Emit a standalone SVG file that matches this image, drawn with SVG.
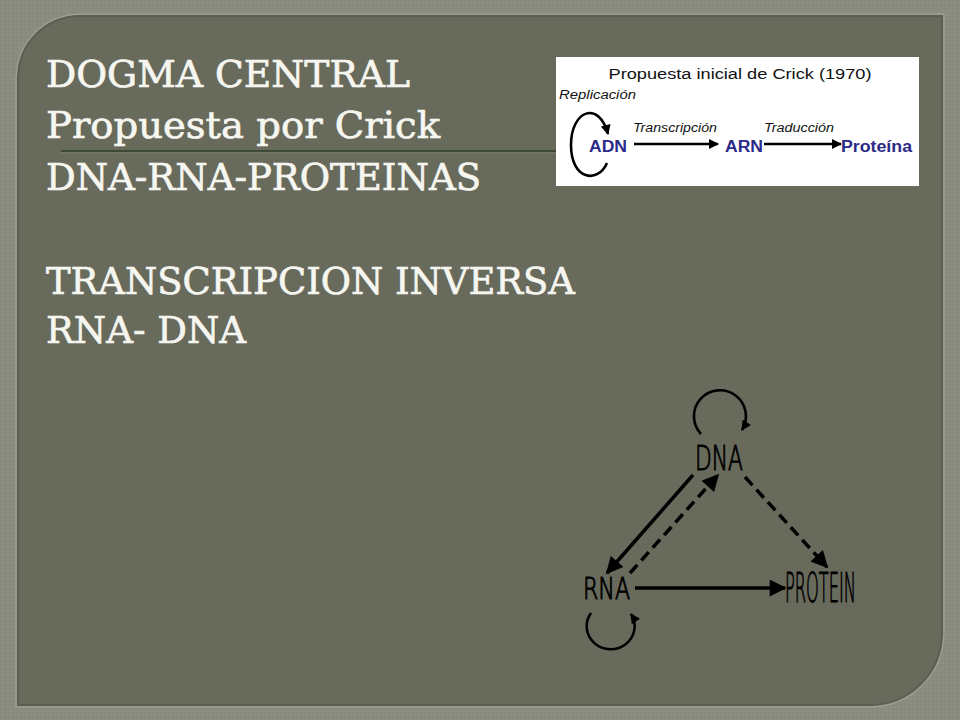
<svg xmlns="http://www.w3.org/2000/svg" width="960" height="720" viewBox="0 0 960 720">
<defs>
<pattern id="tex" width="4" height="4" patternUnits="userSpaceOnUse">
<rect width="4" height="4" fill="#8a8c7f"/>
<rect width="2" height="2" fill="#878a7c"/>
<rect x="2" y="2" width="2" height="2" fill="#8d8f82"/>
</pattern>
<marker id="ah" viewBox="0 0 10 10" refX="9" refY="5" markerWidth="20" markerHeight="17" markerUnits="userSpaceOnUse" orient="auto">
<path d="M0 0 L10 5 L0 10 Z" fill="#000"/>
</marker>
<marker id="ahs" viewBox="0 0 10 10" refX="9" refY="5" markerWidth="11" markerHeight="10" markerUnits="userSpaceOnUse" orient="auto">
<path d="M0 0 L10 5 L0 10 Z" fill="#000"/>
</marker>
</defs>
<style>
.big{font-family:"DejaVu Serif","Liberation Serif",serif;font-size:38px;fill:#f6f6f0;stroke:#f6f6f0;stroke-width:0.7}
.tri{font-family:"DejaVu Sans",sans-serif;font-weight:200;fill:#000;stroke:#000;stroke-width:1}
.cap{font-family:"Liberation Sans",Arial,sans-serif;fill:#111}
.it{font-family:"Liberation Sans",Arial,sans-serif;font-style:italic;font-size:12.5px;fill:#111}
.bl{font-family:"Liberation Sans",Arial,sans-serif;font-weight:bold;font-size:16px;fill:#2b2a86}
.c{stroke:#000;stroke-width:3.5;fill:none}
.cs{stroke:#000;stroke-width:2.6;fill:none}
.d{stroke-dasharray:11 6}
</style>
<rect width="960" height="720" fill="url(#tex)"/>
<path d="M 18 78 A 62 62 0 0 1 80 16 L 942 16 L 942 633 A 72 72 0 0 1 870 705 L 18 705 Z" fill="#686a5c" stroke="#5c5e51" stroke-width="2"/>
<path d="M 16 78 A 64 64 0 0 1 80 14 L 944 14 L 944 633 A 74 74 0 0 1 870 707 L 16 707 Z" fill="none" stroke="#a4a698" stroke-width="1"/>

<g id="title">
<text class="big" x="46" y="87" textLength="364" lengthAdjust="spacingAndGlyphs">DOGMA CENTRAL</text>
<text class="big" x="46" y="138" textLength="394" lengthAdjust="spacingAndGlyphs">Propuesta por Crick</text>
<text class="big" x="46" y="190" textLength="435" lengthAdjust="spacingAndGlyphs">DNA-RNA-PROTEINAS</text>
<text class="big" x="46" y="294" textLength="529" lengthAdjust="spacingAndGlyphs">TRANSCRIPCION INVERSA</text>
<text class="big" x="46" y="343" textLength="200" lengthAdjust="spacingAndGlyphs">RNA- DNA</text>
</g>
<line x1="61" y1="151" x2="556" y2="151" stroke="#3d4a36" stroke-width="2"/>
<line x1="61" y1="153" x2="556" y2="153" stroke="#7d8170" stroke-width="1"/>

<g id="crick-figure">
<rect x="556" y="57" width="363" height="129" fill="#ffffff"/>
<text class="cap" x="740" y="79" font-size="15.5" text-anchor="middle" textLength="263" lengthAdjust="spacingAndGlyphs">Propuesta inicial de Crick (1970)</text>
<text class="it" x="559" y="99" textLength="77" lengthAdjust="spacingAndGlyphs">Replicación</text>
<text class="it" x="633" y="132" textLength="84" lengthAdjust="spacingAndGlyphs">Transcripción</text>
<text class="it" x="764" y="132" textLength="70" lengthAdjust="spacingAndGlyphs">Traducción</text>
<text class="bl" x="589" y="152" textLength="38" lengthAdjust="spacingAndGlyphs">ADN</text>
<text class="bl" x="725" y="152" textLength="38" lengthAdjust="spacingAndGlyphs">ARN</text>
<text class="bl" x="841" y="152" textLength="71" lengthAdjust="spacingAndGlyphs">Proteína</text>
<g id="crick-connectors">
<line class="cs" x1="634" y1="144" x2="718" y2="144" marker-end="url(#ahs)"/>
<line class="cs" x1="764" y1="144" x2="841" y2="144" marker-end="url(#ahs)"/>
<path class="cs" d="M 607 163 C 598 184, 571 180, 571 145 C 571 110, 599 100, 608 134" marker-end="url(#ahs)"/>
</g>
</g>

<g id="node-dna"><text class="tri" x="695" y="470" font-size="34" textLength="48" lengthAdjust="spacingAndGlyphs">DNA</text></g>
<g id="node-rna"><text class="tri" x="583" y="599" font-size="30" textLength="47" lengthAdjust="spacingAndGlyphs">RNA</text></g>
<g id="node-protein"><text class="tri" x="785" y="602" font-size="40" textLength="71" lengthAdjust="spacingAndGlyphs">PROTEIN</text></g>

<g id="connectors">
<line class="c" x1="693" y1="475" x2="607" y2="573" marker-end="url(#ah)"/>
<line class="c d" x1="630" y1="573" x2="718" y2="475" marker-end="url(#ah)"/>
<line class="c d" x1="745" y1="477" x2="827" y2="567" marker-end="url(#ah)"/>
<line class="c" x1="635" y1="588" x2="785" y2="588" marker-end="url(#ah)"/>
<path class="cs" d="M 701 434 A 26 26 0 1 1 742 430" marker-end="url(#ahs)"/>
<path class="cs" d="M 591 613 A 24 23 0 1 0 631 614" marker-end="url(#ahs)"/>
</g>
</svg>
